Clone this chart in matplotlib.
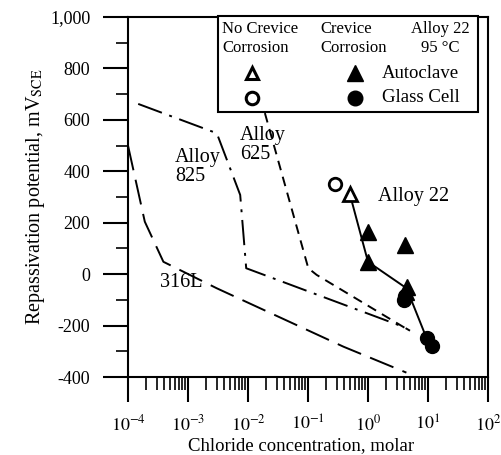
import matplotlib
matplotlib.use("Agg")
import matplotlib.pyplot as plt
from matplotlib.patches import Rectangle
from matplotlib.ticker import FuncFormatter, MultipleLocator, LogLocator

plt.rcParams['font.family'] = ['Liberation Serif', 'DejaVu Serif']
plt.rcParams['mathtext.fontset'] = 'stix'

# curves (chloride molar, mV SCE)
x_316 = [1e-4, 10**-3.72, 10**-3.41, 10**-2.52, 10**-0.41, 10**0.64]
y_316 = [500, 204, 48, -55, -282, -383]

x_825 = [10**-3.83, 10**-2.52, 10**-2.13, 10**-2.03, 10**0.59, 10**0.70]
y_825 = [662, 548, 308, 23, -205, -220]

x_625 = [10**-1.87, 10**-1.717, 10**-0.995, 10**-0.855, 10**0.672]
y_625 = [750, 625, 23, -3, -217]

x_22 = [0.5, 1.0, 4.4, 9.5, 11.5]
y_22 = [310, 48, -55, -250, -275]

# markers
open_tri_x = [0.5]
open_tri_y = [310]
open_circ_x = [0.28]
open_circ_y = [350]
tri_x = [1.0, 1.0, 4.1, 4.4, 4.3]
tri_y = [165, 48, 113, -50, -70]
circ_x = [4.0, 4.2, 9.5, 11.8]
circ_y = [-100, -85, -250, -280]

ytick_vals = [-400, -200, 0, 200, 400, 600, 800, 1000]
xtick_vals = [1e-4, 1e-3, 1e-2, 1e-1, 1e0, 1e1, 1e2]
xtick_labels = ['$10^{-4}$', '$10^{-3}$', '$10^{-2}$', '$10^{-1}$',
                '$10^{0}$', '$10^{1}$', '$10^{2}$']

fig = plt.figure(figsize=(5.02, 4.55), dpi=100)
ax = fig.add_axes([128/502, 1 - 377/455, 360/502, 360/455])

lw = 1.4
ax.plot(x_316, y_316, color='k', lw=lw, linestyle=(0, (13, 5)))
ax.plot(x_825, y_825, color='k', lw=lw, linestyle=(0, (13, 4, 1.5, 4)))
ax.plot(x_625, y_625, color='k', lw=lw, linestyle=(0, (5, 3.5)))
ax.plot(x_22, y_22, color='k', lw=lw, linestyle='-')

ms = 11
ax.plot(tri_x, tri_y, '^', color='k', ms=ms, ls='none')
ax.plot(circ_x, circ_y, 'o', color='k', ms=ms - 1, ls='none')
ax.plot(open_tri_x, open_tri_y, '^', mfc='white', mec='k', mew=2, ms=ms - 1, ls='none')
ax.plot(open_circ_x, open_circ_y, 'o', mfc='white', mec='k', mew=2, ms=ms - 2, ls='none')

# curve labels
lab = 14.5
ax.text(10**-3.22, 417, 'Alloy\n825', fontsize=lab, ha='left', va='center', linespacing=1.0)
ax.text(10**-2.13, 502, 'Alloy\n625', fontsize=lab, ha='left', va='center', linespacing=1.0)
ax.text(10**0.17, 300, 'Alloy 22', fontsize=lab, ha='left', va='center')
ax.text(10**-3.47, -31, '316L', fontsize=lab, ha='left', va='center')

# legend box drawn by hand
ax.add_patch(Rectangle((0.25, 0.736), 0.722, 0.267, transform=ax.transAxes,
                       facecolor='white', edgecolor='k', lw=1.5, zorder=5, clip_on=False))
lf = 12
ax.text(0.262, 0.94, 'No Crevice\nCorrosion', transform=ax.transAxes, fontsize=lf,
        ha='left', va='center', linespacing=1.3, zorder=6)
ax.text(0.535, 0.94, 'Crevice\nCorrosion', transform=ax.transAxes, fontsize=lf,
        ha='left', va='center', linespacing=1.3, zorder=6)
ax.text(0.867, 0.94, 'Alloy 22\n95 °C', transform=ax.transAxes, fontsize=lf,
        ha='center', va='center', linespacing=1.3, zorder=6)
ax.plot([0.344], [0.844], '^', transform=ax.transAxes, mfc='white', mec='k', mew=2.2,
        ms=9, zorder=6, clip_on=False)
ax.plot([0.344], [0.776], 'o', transform=ax.transAxes, mfc='white', mec='k', mew=2.2,
        ms=9, zorder=6, clip_on=False)
ax.plot([0.63], [0.844], '^', transform=ax.transAxes, color='k', ms=ms, zorder=6, clip_on=False)
ax.plot([0.63], [0.776], 'o', transform=ax.transAxes, color='k', ms=ms - 0.5, zorder=6,
        clip_on=False)
ax.text(0.705, 0.844, 'Autoclave', transform=ax.transAxes, fontsize=13.5,
        ha='left', va='center', zorder=6)
ax.text(0.705, 0.776, 'Glass Cell', transform=ax.transAxes, fontsize=13.5,
        ha='left', va='center', zorder=6)

ax.set_xscale('log')
ax.set_xlim(1e-4, 1e2)
ax.set_ylim(-400, 1000)
ax.set_yticks(ytick_vals)
ax.yaxis.set_minor_locator(MultipleLocator(100))
ax.yaxis.set_major_formatter(FuncFormatter(lambda v, p: f"{int(v):,}"))
ax.set_xticks(xtick_vals)
ax.set_xticklabels(xtick_labels)
ax.xaxis.set_minor_locator(LogLocator(base=10, subs=range(2, 10), numticks=20))

for s in ax.spines.values():
    s.set_linewidth(1.5)
ax.tick_params(axis='both', which='major', direction='out', length=18, width=1.5)
ax.tick_params(axis='both', which='minor', direction='out', length=9, width=1.2)
ax.tick_params(axis='x', which='major', pad=9, labelsize=13)
ax.tick_params(axis='y', which='major', pad=9, labelsize=13)

ax.set_xlabel('Chloride concentration, molar', fontsize=13.5)
ax.xaxis.set_label_coords(0.48, -0.168)
ax.set_ylabel('Repassivation potential, mV$_{\\mathrm{SCE}}$', fontsize=14.5)
ax.yaxis.set_label_coords(-0.225, 0.5)

fig.savefig('out.png', dpi=100)
